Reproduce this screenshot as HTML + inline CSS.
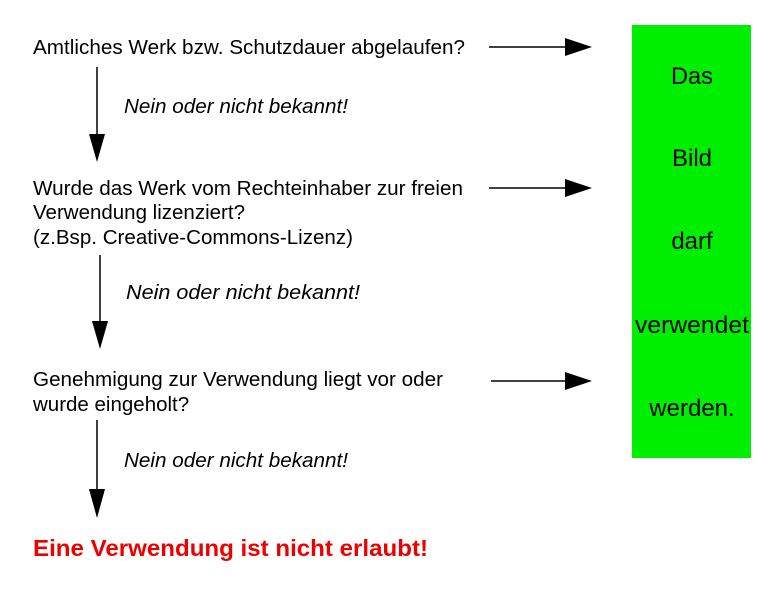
<!DOCTYPE html>
<html><head><meta charset="utf-8"><style>
html,body{margin:0;padding:0;background:#fff;}
svg{display:block;}
text{font-family:"Liberation Sans",Arial,sans-serif;fill:#000;}
</style></head><body>
<svg width="781" height="605" viewBox="0 0 781 605" xmlns="http://www.w3.org/2000/svg">
<rect x="632" y="25" width="119" height="433" fill="#00ee00"/>
<g font-size="24" text-anchor="middle">
<text x="692" y="84" textLength="42" lengthAdjust="spacingAndGlyphs">Das</text>
<text x="692" y="166">Bild</text>
<text x="692" y="249">darf</text>
<text x="692" y="333" textLength="114" lengthAdjust="spacingAndGlyphs">verwendet</text>
<text x="692" y="416">werden.</text>
</g>
<g font-size="20.5">
<text x="33" y="54" textLength="432" lengthAdjust="spacingAndGlyphs">Amtliches Werk bzw. Schutzdauer abgelaufen?</text>
<text x="33" y="195" textLength="430" lengthAdjust="spacingAndGlyphs">Wurde das Werk vom Rechteinhaber zur freien</text>
<text x="33" y="219">Verwendung lizenziert?</text>
<text x="33" y="244" textLength="320" lengthAdjust="spacingAndGlyphs">(z.Bsp. Creative-Commons-Lizenz)</text>
<text x="33" y="386" textLength="410" lengthAdjust="spacingAndGlyphs">Genehmigung zur Verwendung liegt vor oder</text>
<text x="33" y="411">wurde eingeholt?</text>
</g>
<g font-size="20" font-style="italic">
<text x="124" y="113" textLength="224" lengthAdjust="spacingAndGlyphs">Nein oder nicht bekannt!</text>
<text x="126" y="299" textLength="234" lengthAdjust="spacingAndGlyphs">Nein oder nicht bekannt!</text>
<text x="124" y="467" textLength="224" lengthAdjust="spacingAndGlyphs">Nein oder nicht bekannt!</text>
</g>
<text x="33" y="556" font-size="23" font-weight="bold" style="fill:#ee0000" textLength="395" lengthAdjust="spacingAndGlyphs">Eine Verwendung ist nicht erlaubt!</text>
<g stroke="#000" stroke-width="1.5">
<line x1="489" y1="47" x2="566" y2="47"/>
<line x1="489" y1="188" x2="566" y2="188"/>
<line x1="491" y1="381" x2="566" y2="381"/>
<line x1="97" y1="67" x2="97" y2="136"/>
<line x1="100" y1="255" x2="100" y2="322"/>
<line x1="97" y1="420" x2="97" y2="490"/>
</g>
<g fill="#000">
<polygon points="565,38 592,47 565,56"/>
<polygon points="565,179 592,188 565,197"/>
<polygon points="565,372 592,381 565,390"/>
<polygon points="89,134 105,134 97,162"/>
<polygon points="92,321 108,321 100,349"/>
<polygon points="89,489 105,489 97,518"/>
</g>
</svg>
</body></html>
